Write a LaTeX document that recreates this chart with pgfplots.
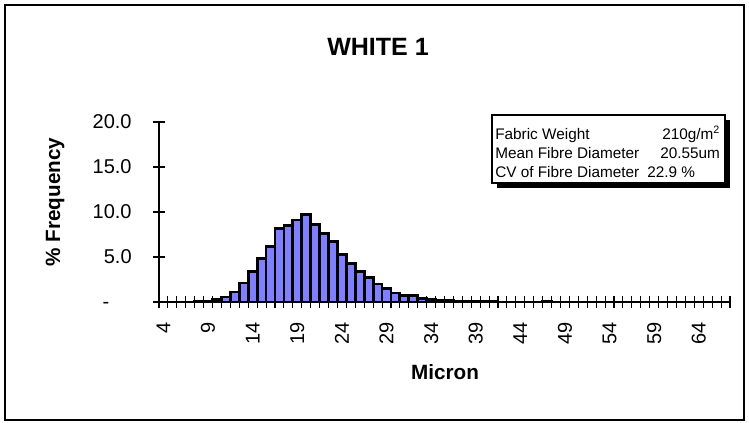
\documentclass[border=0pt]{standalone}
\usepackage{pgfplots}
\pgfplotsset{compat=1.18}
\usepackage{fontspec}
\setmainfont{Liberation Sans}
\definecolor{barblue}{RGB}{128,128,255}
\begin{document}
\begin{tikzpicture}[x=0.75pt,y=0.75pt]
% page and outer frame
\path (0,0) rectangle (749,423);
\draw[line width=1.6pt] (5,3) rectangle (744,418);
\begin{axis}[
    at={(119.25pt,90.75pt)}, anchor=south west,
    scale only axis,
    width=428.25pt, height=135pt,
    xmin=3.5, xmax=67.5,
    ymin=0, ymax=20,
    axis lines=left,
    axis line style={-, line width=0.8pt},
    tick align=outside,
    major tick length=9pt,
    minor tick length=9pt,
    tick style={black, line width=0.8pt},
    xtick={4,9,...,64},
    minor xtick={3.5,4.5,...,67.5},
    major x tick style={draw=none},
    minor x tick style={yshift=4.5pt},
    major y tick style={xshift=4.5pt},
    ytick={0,5,10,15,20},
    yticklabels={-\phantom{00},5.0,10.0,15.0,20.0},
    /pgf/number format/assume math mode=true,
    ticklabel style={font=\fontsize{15}{18}\selectfont},
    xticklabel style={rotate=90, anchor=east},
    xticklabel shift=2.5pt,
    yticklabel shift=8pt,
    ybar, bar width=1,
    clip=false,
]
\addplot[fill=barblue, draw=black, line width=2.1pt] coordinates {
(8,0.05) (9,0.05) (10,0.3) (11,0.55) (12,1.1) (13,2.1) (14,3.35) (15,4.8)
(16,6.2) (17,8.2) (18,8.5) (19,9.1) (20,9.75) (21,8.6) (22,7.6) (23,6.7)
(24,5.3) (25,4.3) (26,3.4) (27,2.7) (28,2.0) (29,1.5) (30,1.0) (31,0.75)
(32,0.7) (33,0.4) (34,0.3) (35,0.2) (36,0.15) (37,0.1) (38,0.1) (39,0.1)
(40,0.1) (41,0.1) (47,0.05)
};
\end{axis}
% title and axis titles
\node[font=\fontsize{18.75}{22}\selectfont\bfseries] at (378,376) {WHITE 1};
\node[font=\fontsize{15.5}{18}\selectfont\bfseries, rotate=90] at (55,221) {\% Frequency};
\node[font=\fontsize{15.5}{18}\selectfont\bfseries] at (445,51) {Micron};
% info box with shadow
\fill[black] (497,235) rectangle (730,303);
\draw[fill=white, line width=1.1pt] (492,240) rectangle (725,308);
\begin{scope}[every node/.style={font=\fontsize{11.5}{14}\selectfont, anchor=base west, inner sep=0pt}]
\node at (495,283.5) {Fabric Weight};
\node at (662,283.5) {210g/m\textsuperscript{2}};
\node at (495,264.5) {Mean Fibre Diameter};
\node at (660,264.5) {20.55um};
\node at (495,245.5) {CV of Fibre Diameter};
\node at (647,245.5) {22.9 \%};
\end{scope}
\end{tikzpicture}
\end{document}
